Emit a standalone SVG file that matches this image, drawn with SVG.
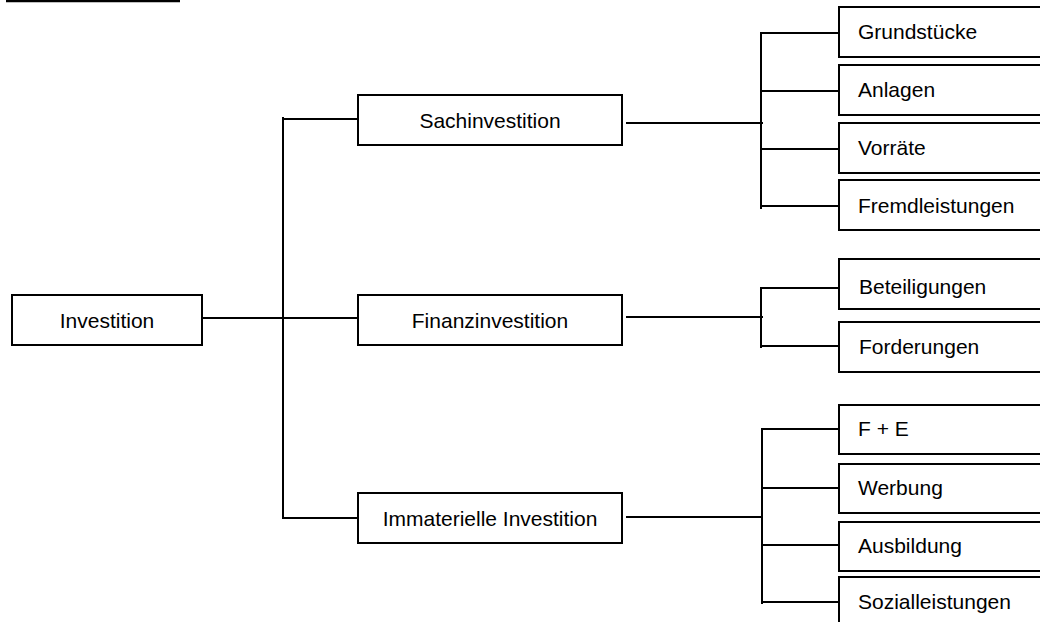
<svg xmlns="http://www.w3.org/2000/svg" width="1040" height="622" viewBox="0 0 1040 622">
  <style>
    .box { fill: #ffffff; stroke: #000000; stroke-width: 2; }
    .lbl { font-family: "Liberation Sans", Arial, sans-serif; font-size: 21px; fill: #000000; }
    .mid { text-anchor: middle; }
    .conn { stroke: #000000; stroke-width: 2; fill: none; stroke-linecap: square; }
  </style>
  <rect width="1040" height="622" fill="#ffffff"/>

  <!-- title underline -->
  <line x1="6" y1="1" x2="180" y2="1" stroke="#000000" stroke-width="2.5"/>

  <g id="connectors">
    <!-- root to level 2 -->
    <line class="conn" x1="203" y1="318" x2="357" y2="318"/>
    <line class="conn" x1="283" y1="118" x2="283" y2="518"/>
    <line class="conn" x1="283" y1="119" x2="357" y2="119"/>
    <line class="conn" x1="283" y1="518" x2="357" y2="518"/>

    <!-- Sachinvestition branch -->
    <line class="conn" x1="627" y1="123" x2="762" y2="123"/>
    <line class="conn" x1="761" y1="33" x2="761" y2="208"/>
    <line class="conn" x1="761" y1="33" x2="838" y2="33"/>
    <line class="conn" x1="761" y1="91" x2="838" y2="91"/>
    <line class="conn" x1="761" y1="149" x2="838" y2="149"/>
    <line class="conn" x1="761" y1="206" x2="838" y2="206"/>

    <!-- Finanzinvestition branch -->
    <line class="conn" x1="627" y1="317" x2="762" y2="317"/>
    <line class="conn" x1="761" y1="288" x2="761" y2="347"/>
    <line class="conn" x1="761" y1="288" x2="838" y2="288"/>
    <line class="conn" x1="761" y1="346" x2="838" y2="346"/>

    <!-- Immaterielle Investition branch -->
    <line class="conn" x1="627" y1="517" x2="762" y2="517"/>
    <line class="conn" x1="762" y1="429" x2="762" y2="603"/>
    <line class="conn" x1="762" y1="429" x2="838" y2="429"/>
    <line class="conn" x1="762" y1="488" x2="838" y2="488"/>
    <line class="conn" x1="762" y1="545" x2="838" y2="545"/>
    <line class="conn" x1="762" y1="602" x2="838" y2="602"/>
  </g>

  <g id="investition">
    <rect class="box" x="12" y="295" width="190" height="50"/>
    <text class="lbl mid" x="107" y="327.5">Investition</text>
  </g>

  <g id="sachinvestition">
    <rect class="box" x="358" y="95" width="264" height="50"/>
    <text class="lbl mid" x="490" y="127.5">Sachinvestition</text>
  </g>
  <g id="finanzinvestition">
    <rect class="box" x="358" y="295" width="264" height="50"/>
    <text class="lbl mid" x="490" y="327.5">Finanzinvestition</text>
  </g>
  <g id="immaterielle-investition">
    <rect class="box" x="358" y="493" width="264" height="50"/>
    <text class="lbl mid" x="490" y="525.5">Immaterielle Investition</text>
  </g>

  <g id="grundstuecke">
    <rect class="box" x="839" y="7" width="230" height="50"/>
    <text class="lbl" x="858" y="39">Grundstücke</text>
  </g>
  <g id="anlagen">
    <rect class="box" x="839" y="65" width="230" height="50"/>
    <text class="lbl" x="858" y="97">Anlagen</text>
  </g>
  <g id="vorraete">
    <rect class="box" x="839" y="123" width="230" height="50"/>
    <text class="lbl" x="858" y="155">Vorräte</text>
  </g>
  <g id="fremdleistungen">
    <rect class="box" x="839" y="180" width="230" height="50"/>
    <text class="lbl" x="858" y="213">Fremdleistungen</text>
  </g>

  <g id="beteiligungen">
    <rect class="box" x="839" y="259" width="230" height="50"/>
    <text class="lbl" x="859" y="294">Beteiligungen</text>
  </g>
  <g id="forderungen">
    <rect class="box" x="839" y="322" width="230" height="50"/>
    <text class="lbl" x="859" y="354">Forderungen</text>
  </g>

  <g id="f-und-e">
    <rect class="box" x="839" y="405" width="230" height="49"/>
    <text class="lbl" x="858" y="436">F + E</text>
  </g>
  <g id="werbung">
    <rect class="box" x="839" y="464" width="230" height="49"/>
    <text class="lbl" x="858" y="495">Werbung</text>
  </g>
  <g id="ausbildung">
    <rect class="box" x="839" y="522" width="230" height="49"/>
    <text class="lbl" x="858" y="553">Ausbildung</text>
  </g>
  <g id="sozialleistungen">
    <rect class="box" x="839" y="577" width="230" height="50"/>
    <text class="lbl" x="858" y="609">Sozialleistungen</text>
  </g>
</svg>
